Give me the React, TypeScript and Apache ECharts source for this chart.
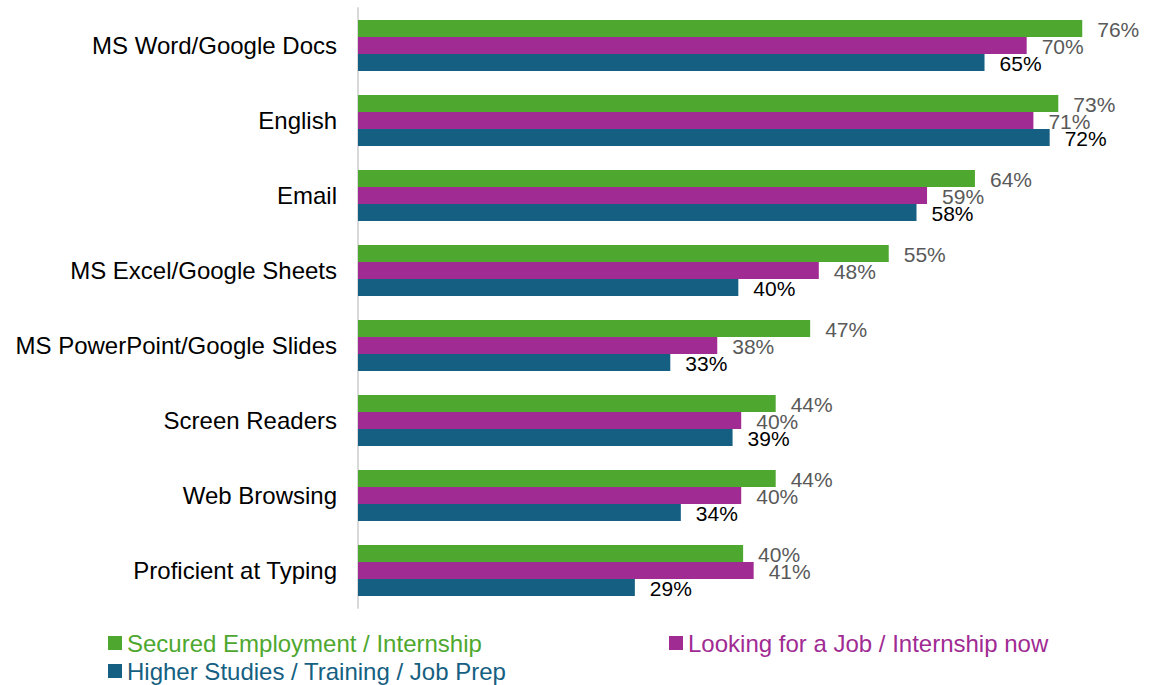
import React, { useEffect, useRef } from "react";
import * as echarts from "echarts";

const categories = [
  "MS Word/Google Docs",
  "English",
  "Email",
  "MS Excel/Google Sheets",
  "MS PowerPoint/Google Slides",
  "Screen Readers",
  "Web Browsing",
  "Proficient at Typing",
];

const seriesNames = [
  "Secured Employment / Internship",
  "Looking for a Job / Internship now",
  "Higher Studies / Training / Job Prep",
];

const securedEmployment = [75.6, 73.1, 64.4, 55.4, 47.2, 43.6, 43.6, 40.2];
const lookingForJob = [69.8, 70.5, 59.4, 48.1, 37.5, 40.0, 40.0, 41.3];
const higherStudies = [65.4, 72.2, 58.3, 39.7, 32.6, 39.1, 33.7, 28.9];

const GREEN = "#4EA72E";
const PURPLE = "#A02B93";
const BLUE = "#156082";
const FONT = "'Liberation Sans', Arial, sans-serif";

export default function App() {
  const ref = useRef<HTMLDivElement>(null);

  useEffect(() => {
    if (!ref.current) return;
    const chart = echarts.init(ref.current, null, { renderer: "svg" });

    const mkSeries = (name: string, data: number[], color: string, labelColor: string) => ({
      type: "bar",
      name,
      data,
      barWidth: 17,
      barGap: "0%",
      itemStyle: { color },
      label: {
        show: true,
        position: "right",
        distance: 15,
        offset: [0, 1],
        color: labelColor,
        fontSize: 21,
        fontFamily: FONT,
        formatter: (p: any) => `${Math.round(p.value)}%`,
      },
    });

    const legendCommon = {
      icon: "rect",
      itemWidth: 14,
      itemHeight: 14,
      padding: 0,
      selectedMode: false,
      textStyle: { fontSize: 24, fontFamily: FONT },
    };

    chart.setOption({
      animation: false,
      grid: { left: 358, top: 8, width: 766.4, height: 600, containLabel: false },
      xAxis: {
        type: "value",
        min: 0,
        max: 80,
        show: false,
      },
      yAxis: {
        type: "category",
        data: categories,
        inverse: true,
        axisLine: { show: true, lineStyle: { color: "#d9d9d9", width: 2 } },
        axisTick: { show: false },
        axisLabel: { fontSize: 24, color: "#000000", margin: 21, fontFamily: FONT },
      },
      legend: [
        {
          ...legendCommon,
          left: 108,
          top: 631,
          data: [{ name: seriesNames[0], textStyle: { color: GREEN } }],
        },
        {
          ...legendCommon,
          left: 669,
          top: 631,
          data: [{ name: seriesNames[1], textStyle: { color: PURPLE } }],
        },
        {
          ...legendCommon,
          left: 108,
          top: 659,
          data: [{ name: seriesNames[2], textStyle: { color: BLUE } }],
        },
      ],
      series: [
        mkSeries(seriesNames[0], securedEmployment, GREEN, "#595959"),
        mkSeries(seriesNames[1], lookingForJob, PURPLE, "#595959"),
        mkSeries(seriesNames[2], higherStudies, BLUE, "#000000"),
      ],
    });

    return () => chart.dispose();
  }, []);

  return (
    <div
      ref={ref}
      style={{ position: "fixed", left: 0, top: 0, width: 1167, height: 685, background: "#ffffff" }}
    />
  );
}
